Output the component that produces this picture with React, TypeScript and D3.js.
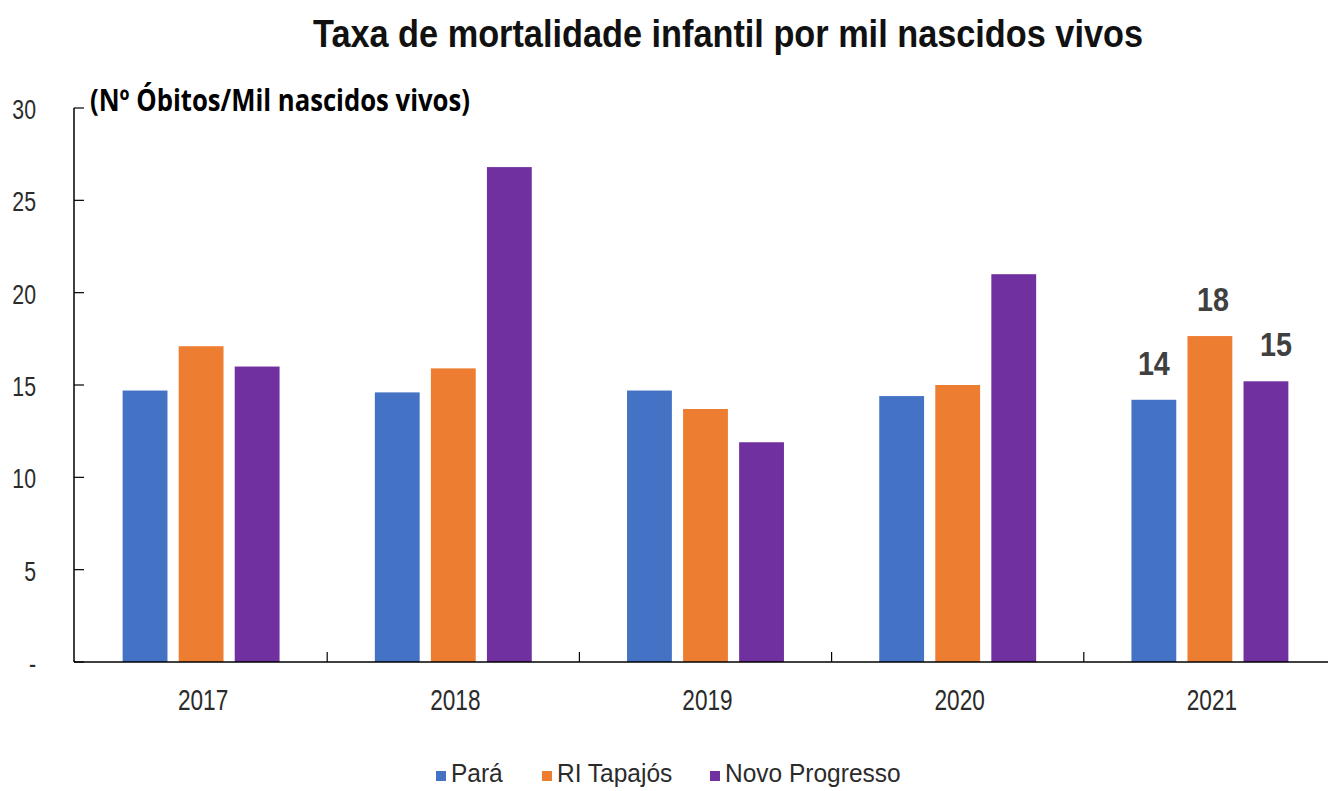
import React from "react";
import * as d3 from "d3";

const years = ["2017", "2018", "2019", "2020", "2021"];
const seriesNames = ["Pará", "RI Tapajós", "Novo Progresso"];
const seriesColors = ["#4472C4", "#ED7D31", "#7030A0"];
const para = [14.7, 14.6, 14.7, 14.4, 14.2];
const riTapajos = [17.1, 15.9, 13.7, 15.0, 17.65];
const novoProgresso = [16.0, 26.8, 11.9, 21.0, 15.2];
const yTicks = [0, 5, 10, 15, 20, 25, 30];
const labelYear = "2021";
const labelValues = ["14", "18", "15"];

const W = 1328;
const H = 791;
const font = "'Liberation Sans', Arial, sans-serif";

function SqText(props: {
  x: number;
  y: number;
  sx: number;
  size: number;
  anchor?: "start" | "middle" | "end";
  weight?: string;
  fill?: string;
  children: React.ReactNode;
}) {
  const { x, y, sx, size, anchor = "start", weight = "normal", fill = "#2b2b2b", children } = props;
  return (
    <text
      transform={`translate(${x},${y}) scale(${sx},1)`}
      textAnchor={anchor}
      fontFamily={font}
      fontSize={size}
      fontWeight={weight}
      fill={fill}
    >
      {children}
    </text>
  );
}

export default function App() {
  const values = [para, riTapajos, novoProgresso];
  const x = d3.scaleBand<string>().domain(years).range([75, 1336]).padding(0);
  const xi = d3
    .scaleBand<string>()
    .domain(seriesNames)
    .range([0, x.bandwidth()])
    .paddingInner(0.2)
    .paddingOuter(0.85);
  const y = d3.scaleLinear().domain([0, 30]).range([662, 108]);
  const axisX = 74;
  const legendX = [436, 542, 710];

  return (
    <svg
      width={W}
      height={H}
      style={{ position: "absolute", left: 0, top: 0, background: "#fff" }}
    >
      <rect x={0} y={0} width={W} height={H} fill="#fff" />
      <text
        x={313}
        y={47}
        fontFamily={font}
        fontWeight="bold"
        fontSize={38}
        fill="#111"
        textLength={830}
        lengthAdjust="spacingAndGlyphs"
      >
        Taxa de mortalidade infantil por mil nascidos vivos
      </text>
      <text
        x={90}
        y={111}
        fontFamily="'Open Sans', sans-serif"
        fontWeight="bold"
        fontSize={30}
        fill="#000"
        textLength={380}
        lengthAdjust="spacingAndGlyphs"
      >
        (Nº Óbitos/Mil nascidos vivos)
      </text>

      {/* bars */}
      {values.map((vals, si) =>
        years.map((yr, i) => (
          <rect
            key={`${si}-${yr}`}
            x={(x(yr) ?? 0) + (xi(seriesNames[si]) ?? 0)}
            y={y(vals[i])}
            width={xi.bandwidth()}
            height={y(0) - y(vals[i])}
            fill={seriesColors[si]}
          />
        ))
      )}

      {/* data labels */}
      {labelValues.map((lab, si) => (
        <SqText
          key={`lab-${si}`}
          x={(x(labelYear) ?? 0) + (xi(seriesNames[si]) ?? 0) + xi.bandwidth() / 2 + (si === 2 ? 10 : si === 1 ? 3 : 0)}
          y={y(values[si][years.indexOf(labelYear)]) - 25}
          sx={0.87}
          size={33}
          anchor="middle"
          weight="bold"
          fill="#404040"
        >
          {lab}
        </SqText>
      ))}

      {/* y axis */}
      <line x1={axisX} x2={axisX} y1={y(30)} y2={y(0)} stroke="#000" strokeWidth={1.5} />
      {yTicks.map((t) => (
        <g key={`yt-${t}`}>
          <line x1={axisX} x2={axisX + 10} y1={y(t)} y2={y(t)} stroke="#000" strokeWidth={1.2} />
          <SqText x={36} y={y(t) + 11} sx={0.76} size={28} anchor="end">
            {t === 0 ? "-" : t}
          </SqText>
        </g>
      ))}

      {/* x axis */}
      <line x1={axisX} x2={W} y1={y(0)} y2={y(0)} stroke="#000" strokeWidth={1.5} />
      {years.map((yr) => (
        <g key={`xt-${yr}`}>
          <line
            x1={(x(yr) ?? 0) + x.bandwidth()}
            x2={(x(yr) ?? 0) + x.bandwidth()}
            y1={y(0)}
            y2={y(0) - 10}
            stroke="#000"
            strokeWidth={1.2}
          />
          <SqText
            x={(x(yr) ?? 0) + x.bandwidth() / 2 + 2}
            y={710}
            sx={0.78}
            size={29}
            anchor="middle"
          >
            {yr}
          </SqText>
        </g>
      ))}

      {/* legend */}
      {seriesNames.map((name, si) => (
        <g key={`lg-${si}`}>
          <rect x={legendX[si]} y={771} width={10} height={10} fill={seriesColors[si]} />
          <SqText x={legendX[si] + 15} y={782} sx={0.98} size={25}>
            {name}
          </SqText>
        </g>
      ))}
    </svg>
  );
}
